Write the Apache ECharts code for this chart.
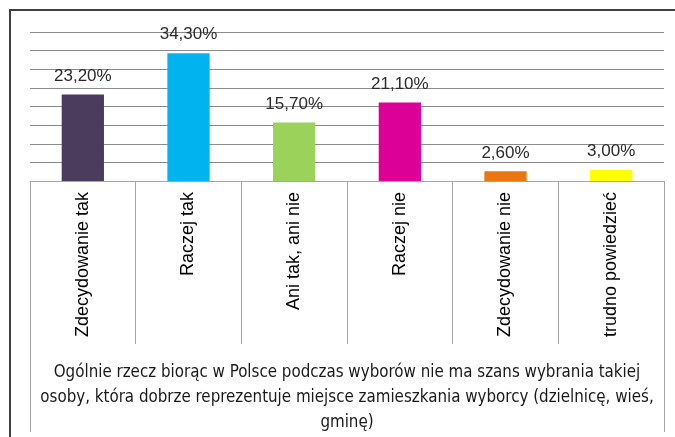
<!DOCTYPE html>
<html>
<head>
<meta charset="utf-8">
<script src="https://cdn.jsdelivr.net/npm/echarts@6/dist/echarts.min.js"></script>
<style>
  html, body { margin: 0; padding: 0; background: #fff; }
  #chart { width: 675px; height: 437px; }
</style>
</head>
<body>
<div id="chart"></div>
<script>
// odpowiedzi i odsetki
const categories = ['Zdecydowanie tak', 'Raczej tak', 'Ani tak, ani nie', 'Raczej nie', 'Zdecydowanie nie', 'trudno powiedzieć']
const values = [23.2, 34.3, 15.7, 21.1, 2.6, 3.0]
const barColors = ['#4b3b5c', '#00b5ef', '#9bd35a', '#dc0096', '#e9760f', '#ffff00']
const question = 'Ogólnie rzecz biorąc w Polsce podczas wyborów nie ma szans wybrania takiej\nosoby, która dobrze reprezentuje miejsce zamieszkania wyborcy (dzielnicę, wieś,\ngminę)'
const yMin = 0
const yMax = 40
const yStep = 5

let chartDom = document.getElementById('chart')
let myChart = echarts.init(chartDom)

let option = {
    animation: false,
    grid: {
        left: 30,
        right: 11,
        top: 32,
        bottom: 256,
        containLabel: false,
        outerBoundsMode: 'none'
    },
    xAxis: [
        {
            type: 'category',
            data: categories,
            axisLine: { lineStyle: { color: '#a6a6a6', width: 1 } },
            axisTick: { show: true, interval: 0, length: 163, lineStyle: { color: '#a6a6a6' } },
            axisLabel: {
                interval: 0,
                rotate: 90,
                margin: 11,
                color: '#000',
                fontSize: 18,
                fontFamily: "'Liberation Sans', Arial, sans-serif"
            }
        },
        {
            // pytanie jako druga linia osi kategorii
            type: 'category',
            position: 'bottom',
            data: [question],
            axisLine: { show: false },
            axisTick: { show: true, length: 251, lineStyle: { color: '#a6a6a6' } },
            axisLabel: {
                margin: 179,
                color: '#1a1a1a',
                fontSize: 16.8,
                lineHeight: 25,
                align: 'center',
                verticalAlign: 'top',
                fontFamily: "'Liberation Sans Narrow', 'DejaVu Sans Condensed', sans-serif"
            }
        }
    ],
    yAxis: {
        type: 'value',
        min: yMin,
        max: yMax,
        interval: yStep,
        axisLine: { show: false },
        axisTick: { show: false },
        axisLabel: { show: false },
        splitLine: { lineStyle: { color: '#8c8c8c', width: 1 } }
    },
    series: [
        {
            type: 'bar',
            xAxisIndex: 0,
            barWidth: '40%',
            data: values.map((v, i) => ({ value: v, itemStyle: { color: barColors[i] } })),
            label: {
                show: true,
                position: 'top',
                distance: 10,
                color: '#2b2b2b',
                fontSize: 17,
                fontFamily: "'Liberation Sans', Arial, sans-serif",
                formatter: p => p.value.toFixed(2).replace('.', ',') + '%'
            }
        }
    ],
    graphic: [
        {
            type: 'rect',
            shape: { x: 10, y: 10, width: 700, height: 500 },
            style: { fill: 'none', stroke: '#404040', lineWidth: 2 },
            silent: true
        }
    ]
}

option && myChart.setOption(option)
</script>
</body>
</html>
